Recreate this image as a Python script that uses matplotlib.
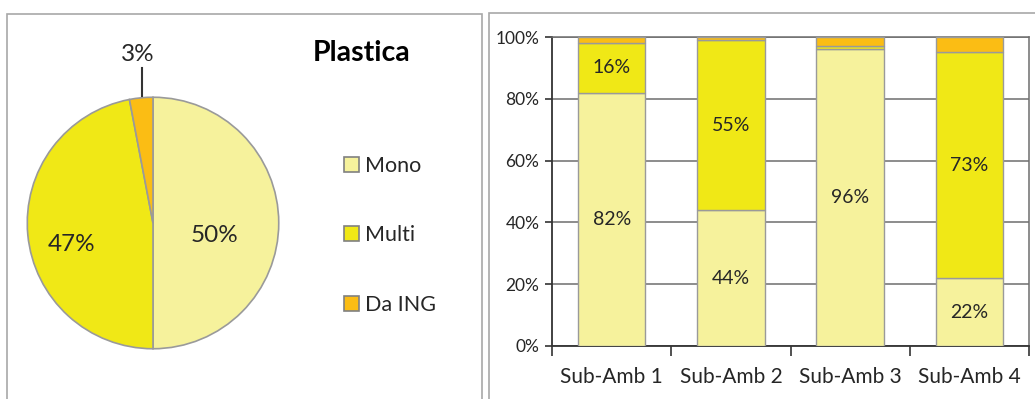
import matplotlib
matplotlib.use("Agg")
import matplotlib.pyplot as plt
from matplotlib.patches import Rectangle, Patch
from matplotlib.ticker import FixedLocator, PercentFormatter
import numpy as np

plt.rcParams['font.family'] = ['Lato', 'DejaVu Sans']

# data
pie_title = "Plastica"
pie_labels = ["Mono", "Multi", "Da ING"]
pie_values = [50, 47, 3]

sub_ambs = ["Sub-Amb 1", "Sub-Amb 2", "Sub-Amb 3", "Sub-Amb 4"]
mono = [82, 44, 96, 22]
multi = [16, 55, 1, 73]
da_ing = [2, 1, 3, 5]

colors = ["#f6f29c", "#f0e816", "#fbbd14"]
edge = "#9a9a9a"
txt = "#262626"

W, H = 1035, 399
fig = plt.figure(figsize=(W / 100, H / 100), dpi=100)


def fbox(x0, y0, x1, y1):
    # pixel box (top-left origin) -> figure fraction
    return [x0 / W, 1 - y1 / H, (x1 - x0) / W, (y1 - y0) / H]


# panel frames
for x0, y0, x1, y1 in [(7, 14, 482, 420), (489, 13, 1060, 420)]:
    fig.patches.append(Rectangle((x0 / W, 1 - y1 / H), (x1 - x0) / W, (y1 - y0) / H,
                                 transform=fig.transFigure, fill=False,
                                 edgecolor="#a8a8a8", lw=1.2))

# ---- pie ----
ax1 = fig.add_axes(fbox(26, 96, 280, 350))
wedges, _, autotexts = ax1.pie(pie_values, colors=colors, startangle=90, counterclock=False,
                               wedgeprops=dict(edgecolor=edge, linewidth=1.2),
                               autopct=lambda p: f"{p:.0f}%", pctdistance=0.6,
                               textprops=dict(fontsize=17.5, color=txt))
ax1.set_xlim(-1.01, 1.01)
ax1.set_ylim(-1.01, 1.01)
ax1.set_aspect("equal")
label_pos = [(0.49, -0.10), (-0.65, -0.17), (-0.12, 1.34)]
for t, p in zip(autotexts, label_pos):
    t.set_position(p)
    t.set_ha("center")
    t.set_va("center")
ax1.plot([-0.09, -0.09], [1.23, 1.01], color="#333333", lw=1.5, clip_on=False)

fig.text(362 / W, 1 - 53 / H, pie_title, fontsize=20.5, fontweight="bold",
         ha="center", va="center", color="black")

handles = [Patch(facecolor=c, edgecolor="#808080", lw=1.2) for c in colors]
fig.legend(handles, pie_labels, loc="upper left", bbox_to_anchor=(333 / W, 1 - 145 / H),
           frameon=False, fontsize=15.5, labelspacing=2.3, handlelength=0.7,
           handleheight=0.7, handletextpad=0.3, borderpad=0, labelcolor=txt)

# ---- stacked bars ----
ax2 = fig.add_axes(fbox(552, 37, 1029, 346))
x = np.arange(len(sub_ambs))
bw = 0.565
bottom = np.zeros(len(sub_ambs))
for vals, c in zip([mono, multi, da_ing], colors):
    vals = np.array(vals, dtype=float)
    bars = ax2.bar(x, vals, bw, bottom=bottom, color=c, edgecolor=edge, lw=1, zorder=3)
    if c != colors[2]:
        labs = [f"{v:.0f}%" if v >= 10 else "" for v in vals]
        ax2.bar_label(bars, labels=labs, label_type="center", fontsize=14, color=txt)
    bottom += vals

ax2.set_xlim(-0.5, len(sub_ambs) - 0.5)
ax2.set_ylim(0, 100)
ax2.set_yticks(np.arange(0, 101, 20))
ax2.yaxis.set_major_formatter(PercentFormatter(decimals=0))
ax2.grid(axis="y", color="#6e6e6e", lw=1.1, zorder=0)
ax2.set_xticks(x)
ax2.set_xticklabels(sub_ambs, fontsize=15, color=txt)
ax2.xaxis.set_minor_locator(FixedLocator(np.arange(-0.5, len(sub_ambs), 1)))
ax2.tick_params(axis="x", which="major", length=0, pad=15)
ax2.tick_params(axis="x", which="minor", length=7, width=1.2, color="#333333")
ax2.tick_params(axis="y", length=5, width=1.2, color="#333333", labelsize=12.5,
                labelcolor=txt, pad=4)
for s in ["left", "bottom"]:
    ax2.spines[s].set_color("#333333")
    ax2.spines[s].set_linewidth(1.3)
for s in ["right", "top"]:
    ax2.spines[s].set_color("#6e6e6e")
    ax2.spines[s].set_linewidth(1.1)

fig.savefig("out.png", dpi=100)
